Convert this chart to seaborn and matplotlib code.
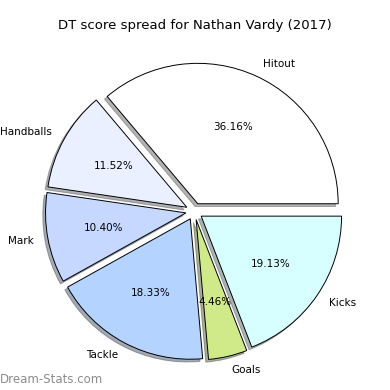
import matplotlib
matplotlib.use("Agg")
import matplotlib.pyplot as plt
import seaborn as sns

sns.set_style("white")
plt.rcParams['font.family'] = ['DejaVu Sans']

# Data
labels = ["Hitout", "Handballs", "Mark", "Tackle", "Goals", "Kicks"]
shares = [36.16, 11.52, 10.40, 18.33, 4.46, 19.13]
colors = ["#ffffff", "#eaf0ff", "#c6d8ff", "#b4d4ff", "#d0ea8a", "#d8ffff"]

fig = plt.figure(figsize=(3.9, 3.9), dpi=100)
ax = fig.add_axes([0.048, 0.008, 0.9, 0.9])

wedges, texts, autotexts = ax.pie(
    shares, labels=labels, colors=colors, explode=[0.06] * len(shares),
    autopct="%1.2f%%", startangle=0, counterclock=True,
    shadow={"ox": -0.014, "oy": -0.014, "shade": 0.6},
    wedgeprops={"edgecolor": "black", "linewidth": 0.7},
    textprops={"fontsize": 7.5, "color": "black"})
ax.set_aspect("equal")

fig.text(0.5, 0.935, "DT score spread for Nathan Vardy (2017)",
         fontsize=9.5, color="black", ha="center", va="center")

fig.text(0.0, 0.01, "Dream-Stats.com", fontsize=8.5, color="#8c8c8c",
         ha="left", va="bottom")

fig.savefig("out.png", dpi=100)
